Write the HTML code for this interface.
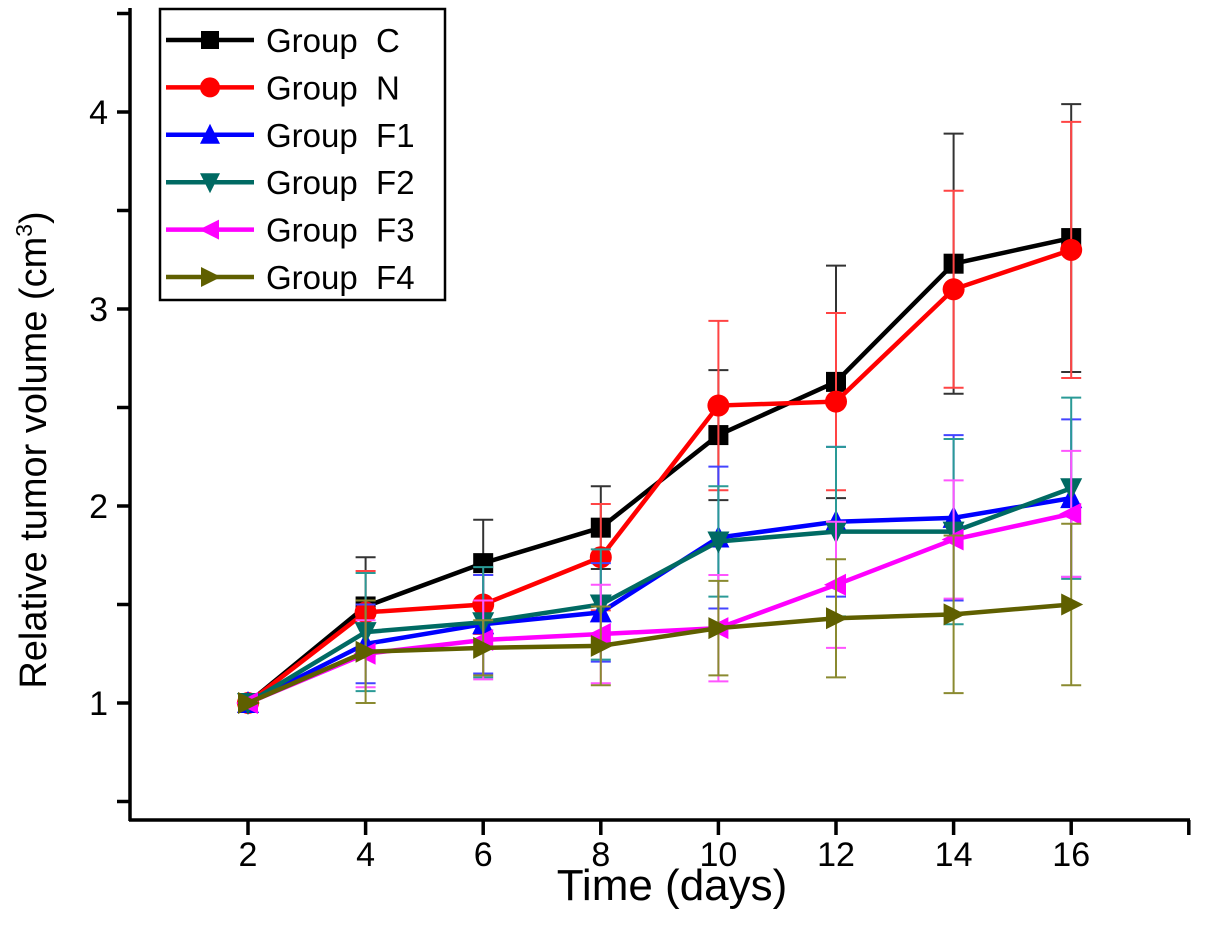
<!DOCTYPE html>
<html><head><meta charset="utf-8"><style>
body{margin:0;background:#fff;}
svg{display:block;font-family:"Liberation Sans",Arial,sans-serif;}
</style></head><body>
<svg id="chart" width="1205" height="933" viewBox="0 0 1205 933" xmlns="http://www.w3.org/2000/svg">
<g id="axes"></g>
<g id="series"></g>
<g id="legend"></g>
<text x="672" y="900" font-size="44" text-anchor="middle">Time (days)</text>
<text transform="translate(46,450) rotate(-90)" font-size="38" text-anchor="middle">Relative tumor volume (cm<tspan font-size="23" dy="-14">3</tspan><tspan dy="14">)</tspan></text>
</svg>
<script>
const days = [2,4,6,8,10,12,14,16];
const names = ["Group  C","Group  N","Group  F1","Group  F2","Group  F3","Group  F4"];
const valC  = [1,1.49,1.71,1.89,2.36,2.63,3.23,3.36];
const valN  = [1,1.46,1.50,1.74,2.51,2.53,3.10,3.30];
const valF1 = [1,1.30,1.40,1.46,1.84,1.92,1.94,2.04];
const valF2 = [1,1.36,1.41,1.50,1.82,1.87,1.87,2.09];
const valF3 = [1,1.25,1.32,1.35,1.38,1.60,1.83,1.96];
const valF4 = [1,1.26,1.28,1.29,1.38,1.43,1.45,1.50];
const errC  = [0,0.25,0.22,0.21,0.33,0.59,0.66,0.68];
const errN  = [0,0.21,0.15,0.27,0.43,0.45,0.50,0.65];
const errF1 = [0,0.20,0.25,0.25,0.36,0.38,0.42,0.40];
const errF2 = [0,0.30,0.28,0.28,0.28,0.43,0.47,0.46];
const errF3 = [0,0.17,0.20,0.25,0.27,0.32,0.30,0.32];
const errF4 = [0,0.26,0.14,0.20,0.24,0.30,0.40,0.41];
const yTicks = [0.5,1,1.5,2,2.5,3,3.5,4,4.5];
const yLabels = ["","1","","2","","3","","4",""];
const xTicks = [2,4,6,8,10,12,14,16,18];
const xLabels = ["2","4","6","8","10","12","14","16",""];

const NS="http://www.w3.org/2000/svg";
const X = d => 130.4 + d*58.8;
const Y = v => 703 - (v-1)*197;
function mk(tag, attrs, parent){const e=document.createElementNS(NS,tag);for(const k in attrs)e.setAttribute(k,attrs[k]);parent.appendChild(e);return e;}
const axes=document.getElementById('axes'), series=document.getElementById('series'), legend=document.getElementById('legend');

let a=mk('line',{x1:130,y1:8,x2:130,y2:821,stroke:'#000','stroke-width':3.5},axes);


a=mk('line',{x1:129,y1:820,x2:1190,y2:820,stroke:'#000','stroke-width':3.5},axes);


yTicks.forEach((t,i)=>{
  const tk=mk('line',{x1:117,y1:Y(t),x2:130,y2:Y(t),stroke:'#000','stroke-width':3.5},axes);
  
  
  if(yLabels[i]){const tx=mk('text',{x:108,y:Y(t)+12,'font-size':34,'text-anchor':'end'},axes);tx.textContent=yLabels[i];
  
  }
});
xTicks.forEach((t,i)=>{
  const tk=mk('line',{x1:X(t),y1:820,x2:X(t),y2:835,stroke:'#000','stroke-width':3.5},axes);
  
  
  if(xLabels[i]){const tx=mk('text',{x:X(t),y:866,'font-size':34,'text-anchor':'middle'},axes);tx.textContent=xLabels[i];
  
  }
});

const vals=[valC,valN,valF1,valF2,valF3,valF4];
const errs=[errC,errN,errF1,errF2,errF3,errF4];
const colors=['#000000','#ff0000','#0000ff','#006a63','#ff00ff','#5f5f00'];
const ecolors=['#333333','#ff4444','#4444ff','#2a9a96','#ff55ff','#8a8a30'];
const shapes=['square','circle','up','down','left','right'];
function marker(s,x,y,c,p,r){
  if(s==='square') return mk('rect',{x:x-r,y:y-r,width:2*r,height:2*r,fill:c},p);
  if(s==='circle') return mk('circle',{cx:x,cy:y,r:r+1,fill:c},p);
  let pts;
  if(s==='up') pts=[[x,y-r-2],[x-r-1,y+r],[x+r+1,y+r]];
  if(s==='down') pts=[[x,y+r+2],[x-r-1,y-r],[x+r+1,y-r]];
  if(s==='left') pts=[[x-r-2,y],[x+r,y-r-1],[x+r,y+r+1]];
  if(s==='right') pts=[[x+r+2,y],[x-r,y-r-1],[x-r,y+r+1]];
  return mk('polygon',{points:pts.map(q=>q.join(',')).join(' '),fill:c},p);
}
vals.forEach((v,si)=>{
  const g=mk('g',{},series);
  
  
  v.forEach((val,i)=>{
    const e=errs[si][i]; if(!e) return;
    const x=X(days[i]);
    const eb=mk('path',{d:`M${x},${Y(val+e)}V${Y(val-e)}M${x-10},${Y(val+e)}h20M${x-10},${Y(val-e)}h20`,stroke:ecolors[si],'stroke-width':2,fill:'none'},g);
    
    
  });
  const ln=mk('polyline',{points:v.map((val,i)=>X(days[i])+','+Y(val)).join(' '),stroke:colors[si],'stroke-width':4.5,fill:'none'},g);
  
  
  v.forEach((val,i)=>{
    const m=marker(shapes[si],X(days[i]),Y(val),colors[si],g,10);
    
    
  });
});

const box=mk('rect',{x:160,y:9,width:285,height:291,fill:'#fff',stroke:'#000','stroke-width':2.5},legend);


names.forEach((n,i)=>{
  const y=40+i*47.4;
  const g=mk('g',{},legend);
  
  
  mk('line',{x1:166,y1:y,x2:254,y2:y,stroke:colors[i],'stroke-width':4.5},g);
  marker(shapes[i],210,y,colors[i],g,9);
  const t=mk('text',{x:266,y:y+12,'font-size':33},g);
  t.textContent=n;
  t.setAttribute('xml:space','preserve');
  t.style.whiteSpace='pre';
});
</script>
</body></html>
